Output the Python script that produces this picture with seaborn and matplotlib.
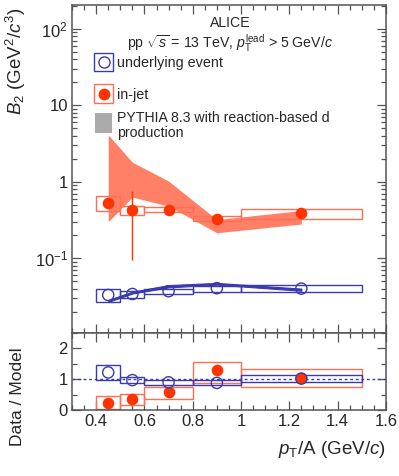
import numpy as np
import pandas as pd
import matplotlib
matplotlib.use("Agg")
import matplotlib.pyplot as plt
import matplotlib.patches as mpatches
from matplotlib.ticker import MultipleLocator, FixedLocator, NullFormatter, LogLocator
import seaborn as sns

# ---------------- data ----------------
pt_centers = [0.45, 0.55, 0.70, 0.90, 1.25]
bin_lo = [0.4, 0.5, 0.6, 0.8, 1.0]
bin_hi = [0.5, 0.6, 0.8, 1.0, 1.5]

ue_b2 = [0.033, 0.034, 0.037, 0.0405, 0.040]
ue_sys_lo = [0.0265, 0.030, 0.034, 0.0363, 0.0363]
ue_sys_hi = [0.040, 0.037, 0.040, 0.0435, 0.0445]

jet_b2 = [0.53, 0.43, 0.43, 0.33, 0.39]
jet_stat_lo = [0.50, 0.096, 0.41, 0.31, 0.37]
jet_stat_hi = [0.56, 0.76, 0.45, 0.35, 0.41]
jet_sys_lo = [0.41, 0.37, 0.40, 0.31, 0.33]
jet_sys_hi = [0.65, 0.48, 0.47, 0.357, 0.44]

model_jet_lo = [0.30, 0.63, 0.48, 0.215, 0.28]
model_jet_hi = [4.1, 1.8, 1.02, 0.32, 0.42]
model_ue_lo = [0.0268, 0.0345, 0.0415, 0.0450, 0.0375]
model_ue_hi = [0.0285, 0.0365, 0.0445, 0.0475, 0.0400]

ratio_ue = [1.22, 0.97, 0.90, 0.88, 1.02]
ratio_ue_sys_lo = [0.96, 0.87, 0.81, 0.81, 0.91]
ratio_ue_sys_hi = [1.46, 1.07, 0.97, 0.97, 1.12]
ratio_jet = [0.24, 0.35, 0.57, 1.29, 1.03]
ratio_jet_err = [0.03, 0.04, 0.05, 0.10, 0.10]
ratio_jet_sys_lo = [0.02, 0.15, 0.37, 0.87, 0.76]
ratio_jet_sys_hi = [0.44, 0.52, 0.74, 1.55, 1.33]

x_ticks = [0.4, 0.6, 0.8, 1.0, 1.2, 1.4, 1.6]
x_ticklabels = ["0.4", "0.6", "0.8", "1", "1.2", "1.4", "1.6"]

# ---------------- style ----------------
sns.set_theme(style="ticks")
plt.rcParams["font.family"] = ["Liberation Sans", "DejaVu Sans"]
plt.rcParams["mathtext.fontset"] = "custom"
plt.rcParams["mathtext.rm"] = "Liberation Sans"
plt.rcParams["mathtext.it"] = "Liberation Sans:italic"
plt.rcParams["mathtext.bf"] = "Liberation Sans:bold"

BLUE = "#3a3ab0"
RED = "#ff3300"
RED_BOX = "#ff6e50"
BAND = "#ff8066"
FRAME = "#555555"

df_ue = pd.DataFrame({"pt": pt_centers, "b2": ue_b2})
df_jet = pd.DataFrame({"pt": pt_centers, "b2": jet_b2})
widths = np.array(bin_hi) - np.array(bin_lo)

fig = plt.figure(figsize=(3.99, 4.76), dpi=100)
ax = fig.add_axes([0.1805, 0.3004, 0.7865, 0.6891])
axr = fig.add_axes([0.1805, 0.1387, 0.7865, 0.1617])

# ---------------- top panel ----------------
ax.set_yscale("log")
ax.fill_between(pt_centers, model_jet_lo, model_jet_hi, color=BAND, lw=0, zorder=1)
ax.fill_between(pt_centers, model_ue_lo, model_ue_hi, color=BLUE, lw=0.8, edgecolor=BLUE, zorder=1)

ax.bar(pt_centers, np.array(jet_sys_hi) - np.array(jet_sys_lo), bottom=jet_sys_lo, width=widths,
       fill=False, edgecolor=RED_BOX, linewidth=1.0, zorder=2)
ax.bar(pt_centers, np.array(ue_sys_hi) - np.array(ue_sys_lo), bottom=ue_sys_lo, width=widths,
       fill=False, edgecolor=BLUE, linewidth=1.0, zorder=2)

ax.vlines(pt_centers, jet_stat_lo, jet_stat_hi, color=RED, lw=1, zorder=3)
sns.scatterplot(data=df_jet, x="pt", y="b2", ax=ax, s=70, color=RED, edgecolor=RED,
                linewidth=0, zorder=4, legend=False)
sns.scatterplot(data=df_ue, x="pt", y="b2", ax=ax, s=65, facecolor="none", edgecolor=BLUE,
                linewidth=1.0, zorder=4, legend=False)

ax.set_xlim(0.3, 1.6)
ax.set_ylim(0.0105, 205)
ax.set_xlabel("")
ax.set_ylabel("")
ax.xaxis.set_major_locator(FixedLocator(x_ticks))
ax.xaxis.set_minor_locator(MultipleLocator(0.05))
ax.xaxis.set_major_formatter(NullFormatter())
ax.yaxis.set_major_locator(LogLocator(base=10, numticks=10))
ax.yaxis.set_minor_locator(LogLocator(base=10, subs=np.arange(2, 10), numticks=10))
ax.yaxis.set_minor_formatter(NullFormatter())
ax.set_yticks([0.1, 1, 10, 100])
ax.set_yticklabels([r"$10^{-1}$", "1", "10", r"$10^{2}$"])

# legend (manual)
T = ax.transAxes
ax.add_patch(mpatches.Rectangle((0.070, 0.799), 0.061, 0.055, transform=T, fill=False,
                                edgecolor=BLUE, lw=1.0, zorder=5))
ax.plot([0.1005], [0.8265], transform=T, marker="o", ms=8, mfc="none", mec=BLUE, mew=1.0, zorder=6)
ax.text(0.143, 0.824, "underlying event", transform=T, fontsize=10.4, va="center", ha="left")
ax.add_patch(mpatches.Rectangle((0.070, 0.701), 0.061, 0.058, transform=T, fill=False,
                                edgecolor=RED_BOX, lw=1.0, zorder=5))
ax.plot([0.1005], [0.730], transform=T, marker="o", ms=8.5, mfc=RED, mec=RED, mew=0, zorder=6)
ax.text(0.143, 0.727, "in-jet", transform=T, fontsize=10.4, va="center", ha="left")
ax.add_patch(mpatches.Rectangle((0.073, 0.610), 0.054, 0.061, transform=T, facecolor="#aaaaaa",
                                edgecolor="none", zorder=5))
ax.text(0.143, 0.655, "PYTHIA 8.3 with reaction-based d", transform=T, fontsize=10.2,
        va="center", ha="left")
ax.text(0.143, 0.610, "production", transform=T, fontsize=10.2, va="center", ha="left")

ax.text(0.503, 0.945, "ALICE", transform=T, fontsize=10.2, va="center", ha="center")
ax.text(0.175, 0.884, r"pp $\sqrt{s}$ = 13 TeV, $p_{\rm T}^{\rm lead}$ > 5 GeV/$c$",
        transform=T, fontsize=10.2, va="center", ha="left")

# ---------------- ratio panel ----------------
axr.axhline(1.0, color=BLUE, lw=1.0, ls=(0, (2, 2)), zorder=1)
axr.bar(pt_centers, np.array(ratio_jet_sys_hi) - np.array(ratio_jet_sys_lo), bottom=ratio_jet_sys_lo,
        width=widths, fill=False, edgecolor=RED_BOX, linewidth=1.0, zorder=2)
axr.bar(pt_centers, np.array(ratio_ue_sys_hi) - np.array(ratio_ue_sys_lo), bottom=ratio_ue_sys_lo,
        width=widths, fill=False, edgecolor=BLUE, linewidth=1.0, zorder=2)
axr.vlines(pt_centers, np.array(ratio_jet) - np.array(ratio_jet_err),
           np.array(ratio_jet) + np.array(ratio_jet_err), color=RED, lw=1, zorder=3)
df_rj = pd.DataFrame({"pt": pt_centers, "r": ratio_jet})
df_ru = pd.DataFrame({"pt": pt_centers, "r": ratio_ue})
sns.scatterplot(data=df_rj, x="pt", y="r", ax=axr, s=70, color=RED, edgecolor=RED,
                linewidth=0, zorder=4, legend=False)
sns.scatterplot(data=df_ru, x="pt", y="r", ax=axr, s=65, facecolor="none", edgecolor=BLUE,
                linewidth=1.0, zorder=4, legend=False)
axr.set_xlim(0.3, 1.6)
axr.set_ylim(0, 2.5)
axr.set_xlabel("")
axr.set_ylabel("")
axr.xaxis.set_major_locator(FixedLocator(x_ticks))
axr.set_xticklabels(x_ticklabels)
axr.xaxis.set_minor_locator(MultipleLocator(0.05))
axr.yaxis.set_major_locator(FixedLocator([0, 1, 2]))
axr.yaxis.set_minor_locator(MultipleLocator(0.5))

for a in (ax, axr):
    for s in a.spines.values():
        s.set_color(FRAME)
        s.set_linewidth(1.1)
    a.tick_params(which="both", direction="in", top=True, right=True, color=FRAME,
                  labelsize=12, width=0.9, pad=3)
    a.tick_params(which="major", length=6.5)
    a.tick_params(which="minor", length=3.5)
    a.grid(False)

fig.text(0.040, 0.985, r"$B_{2}$ (GeV$^{2}$/$c^{3}$)", rotation=90, va="top", ha="center",
         fontsize=13.5)
fig.text(0.045, 0.166, "Data / Model", rotation=90, va="center", ha="center", fontsize=12.5)
fig.text(0.967, 0.055, r"$p_{\rm T}$/A (GeV/$c$)", va="center", ha="right", fontsize=13.5)

fig.savefig("out.png", dpi=100)
